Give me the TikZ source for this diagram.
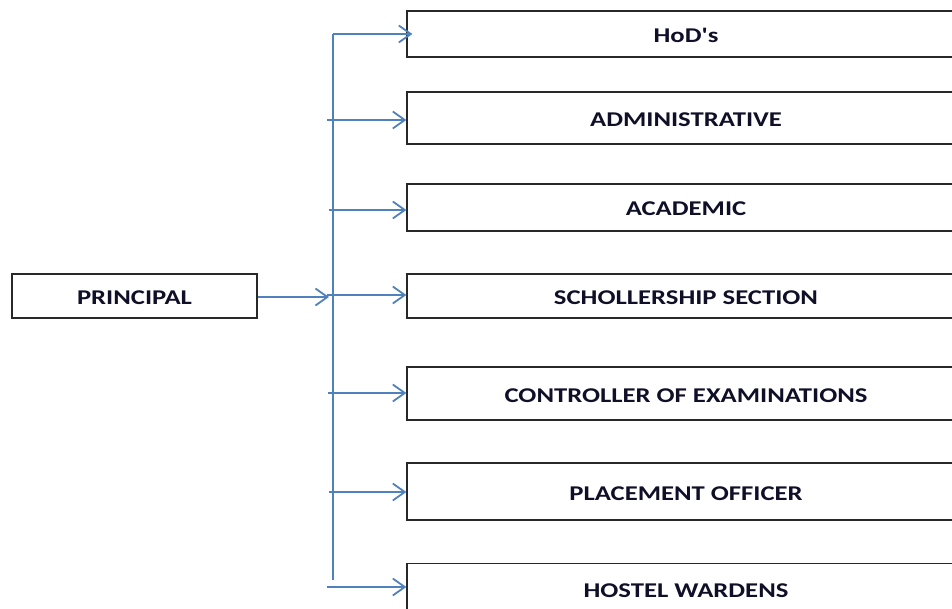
\documentclass[tikz,border=0pt]{standalone}
\usepackage{fontspec}
\setmainfont{Carlito}
\newfontfamily\boxfont[FakeStretch=1.27]{Carlito}
\usetikzlibrary{arrows.meta}
\definecolor{conn}{RGB}{79,129,189}
\definecolor{boxline}{RGB}{40,40,40}
\definecolor{boxtext}{RGB}{15,15,40}
\tikzset{
  unit box/.style={draw=boxline, line width=1.3pt, fill=white, inner sep=0pt,
    text height=17pt, text depth=0pt,
    font=\boxfont\fontsize{21}{24}\selectfont\bfseries, text=boxtext},
  right box/.style={unit box, minimum width=558pt},
  link/.style={draw=conn, line width=1.8pt},
  arrowlink/.style={link, -{Straight Barb[length=12pt,width=17pt,line width=1.8pt]}}
}
\begin{document}
\begin{tikzpicture}[x=1pt,y=-1pt]
\useasboundingbox (0,0) rectangle (952,609);
\clip (0,0) rectangle (952,609);
% boxes
\node[unit box, minimum width=245pt, minimum height=44pt] (prin) at (134.5,296) {PRINCIPAL};
\node[right box, minimum height=46pt] (hod) at (686,34) {HoD's};
\node[right box, minimum height=52pt] (adm) at (686,118) {ADMINISTRATIVE};
\node[right box, minimum height=47pt] (aca) at (686,207.5) {ACADEMIC};
\node[right box, minimum height=44pt] (sch) at (686,296) {SCHOLLERSHIP SECTION};
\node[right box, minimum height=53pt] (coe) at (686,393.5) {CONTROLLER OF EXAMINATIONS};
\node[right box, minimum height=57pt] (plc) at (686,491.5) {PLACEMENT OFFICER};
\node[right box, minimum height=50pt, anchor=north] (hst) at (686,563) {HOSTEL WARDENS};
% connector coordinates
\coordinate (vtop) at (333,34);
\coordinate (vbot) at (333,580);
\coordinate (join) at (329,297);
\coordinate (s2) at (327,120);
\coordinate (s3) at (329,210);
\coordinate (s4) at (327,295);
\coordinate (s5) at (328,393);
\coordinate (s6) at (329,492);
\coordinate (s7) at (327,587);
% trunk
\draw[link] (vbot) -- (vtop);
\draw[arrowlink] (vtop) -- ([xshift=6pt]hod.west |- vtop);
\draw[arrowlink] (prin.east |- join) -- (join);
\draw[arrowlink] (s2) -- (adm.west |- s2);
\draw[arrowlink] (s3) -- (aca.west |- s3);
\draw[arrowlink] (s4) -- (sch.west |- s4);
\draw[arrowlink] (s5) -- (coe.west |- s5);
\draw[arrowlink] (s6) -- (plc.west |- s6);
\draw[arrowlink] (s7) -- (hst.west |- s7);
\end{tikzpicture}
\end{document}
